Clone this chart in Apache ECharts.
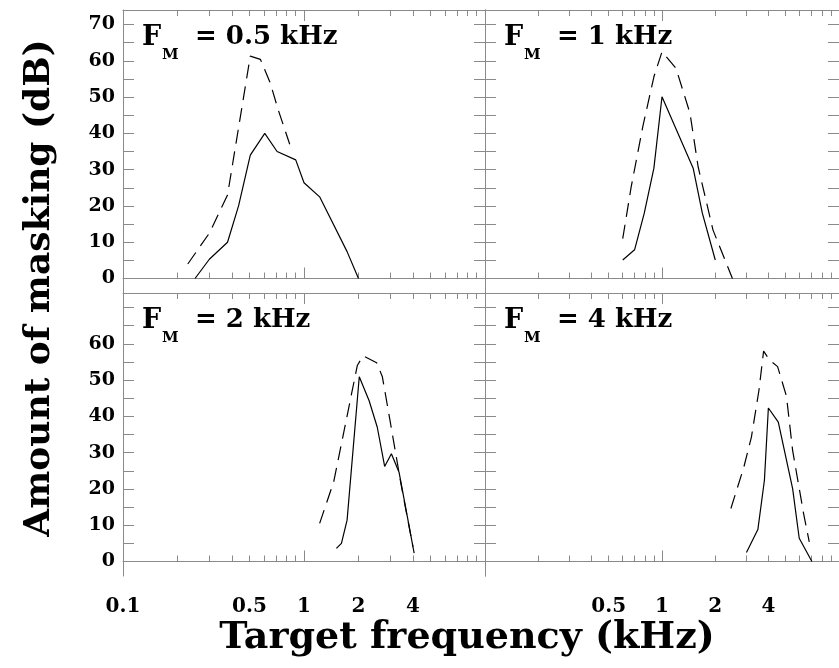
<!DOCTYPE html>
<html>
<head>
<meta charset="utf-8" />
<script src="https://cdn.jsdelivr.net/npm/echarts@6/dist/echarts.min.js"></script>
</head>
<body style="margin:0">
<div id="main" style="width: 839px;height: 668px;"></div>
<script type="text/javascript">
var chartDom = document.getElementById('main');
var myChart = echarts.init(chartDom);

// [target frequency kHz, masking dB]
var solid05 = [[0.25,0],[0.3,5.3],[0.378,10],[0.435,20],[0.505,34],[0.607,40],[0.71,35],[0.9,32.7],[1.0,26.4],[1.22,22.5],[1.73,7.4],[2.0,0]];
var dash05 = [[0.228,4],[0.3,12.5],[0.378,23],[0.505,61.3],[0.574,60.4],[0.65,54],[0.72,46.5],[0.834,37]];
var solid1 = [[0.6,5.1],[0.7,7.9],[0.794,18],[0.9,30.4],[1.0,50.1],[1.5,30.4],[1.69,18],[2.0,5.1]];
var dash1 = [[0.6,11],[0.67,25.3],[0.78,42],[0.9,55.6],[1.0,62.5],[1.2,57.9],[1.44,45.5],[1.6,30.8],[1.94,13.4],[2.5,0]];
var solid2 = [[1.51,3.6],[1.61,5],[1.73,11.4],[2.02,50.9],[2.29,44.3],[2.54,37],[2.79,26.2],[3.04,29.7],[3.35,24.6],[4.06,2.3]];
var dash2 = [[1.22,10.5],[1.46,22],[1.97,54],[2.12,56.7],[2.52,54.8],[2.71,50.9],[3.01,37.9],[3.43,21.5],[4.0,4]];
var solid4 = [[3.0,2.5],[3.48,8.8],[3.79,22.4],[3.99,42.3],[4.54,38.4],[5.47,20.1],[5.96,6.4],[7.03,0]];
var dash4 = [[2.45,14.6],[2.9,26],[3.2,34.3],[3.53,47.2],[3.75,58],[4.05,55.5],[4.5,53.7],[5.05,45.5],[5.47,30.6],[6.31,13.2],[6.79,5.4]];

var panelNames = ['0.5', '1', '2', '4'];
var xMinorTicks = [0.2,0.3,0.4,0.5,0.6,0.7,0.8,0.9,2,3,4,5,6,7,8,9];
var xMajorTicks = [1];
var xLabelsLeft = [0.1, 0.5, 1, 2, 4];
var xLabelsRight = [0.5, 1, 2, 4];
var yTicks = [0,5,10,15,20,25,30,35,40,45,50,55,60,65,70];
var yLabelsTop = [0,10,20,30,40,50,60,70];
var yLabelsBottom = [0,10,20,30,40,50,60];

var panelSolid = [solid05, solid1, solid2, solid4];
var panelDash = [dash05, dash1, dash2, dash4];

var grey = '#8a8a8a';
var serif = 'DejaVu Serif';
var grids = [
    { left: 123, top: 10, width: 362, height: 283 },
    { left: 485, top: 10, width: 362, height: 283 },
    { left: 123, top: 293, width: 362, height: 283 },
    { left: 485, top: 293, width: 362, height: 283 }
];

var xAxes = [], yAxes = [], series = [], graphics = [];

function xAxisDef(g, pos, ticks, len, showLine, labels) {
    return {
        type: 'log', gridIndex: g, position: pos, min: 0.1, max: 10, logBase: 10,
        axisLine: { show: showLine, lineStyle: { color: grey, width: 1 } },
        axisTick: { show: true, inside: true, length: len, customValues: ticks, lineStyle: { color: grey } },
        axisLabel: labels ? {
            show: true, customValues: labels, margin: 21,
            fontFamily: serif, fontWeight: 'bold', fontSize: 20, color: '#000',
            formatter: function (v) { return String(+(+v).toPrecision(3)); }
        } : { show: false },
        splitLine: { show: false },
        minorTick: { show: false }
    };
}

function yAxisDef(g, pos, labels) {
    return {
        type: 'value', gridIndex: g, position: pos, min: -4, max: 74,
        axisLine: { show: true, lineStyle: { color: grey, width: 1 } },
        axisTick: { show: true, inside: true, length: 11, customValues: yTicks, lineStyle: { color: grey } },
        axisLabel: labels ? {
            show: true, customValues: labels, margin: 8,
            fontFamily: serif, fontWeight: 'bold', fontSize: 19, color: '#000'
        } : { show: false },
        splitLine: { show: false }
    };
}

for (var g = 0; g < 4; g++) {
    var isBottom = g >= 2;
    var isLeft = g % 2 === 0;
    var labs = isBottom ? (isLeft ? xLabelsLeft : xLabelsRight) : null;
    xAxes.push(xAxisDef(g, 'bottom', xMinorTicks, 6, true, labs));
    xAxes.push(xAxisDef(g, 'bottom', xMajorTicks, 11, false, null));
    xAxes.push(xAxisDef(g, 'top', xMinorTicks, 6, true, null));
    xAxes.push(xAxisDef(g, 'top', xMajorTicks, 11, false, null));
    yAxes.push(yAxisDef(g, 'left', isLeft ? (isBottom ? yLabelsBottom : yLabelsTop) : null));
    yAxes.push(yAxisDef(g, 'right', null));

    series.push({
        type: 'line', xAxisIndex: g * 4, yAxisIndex: g * 2,
        data: panelSolid[g], symbol: 'none', silent: true,
        lineStyle: { color: '#000', width: 1.2 }
    });
    series.push({
        type: 'line', xAxisIndex: g * 4, yAxisIndex: g * 2,
        data: panelDash[g], symbol: 'none', silent: true,
        lineStyle: { color: '#000', width: 1.2, type: [14, 8] }
    });

    // panel title F_M = ...
    var lx = grids[g].left + 19;
    var ly = grids[g].top + 20;
    graphics.push({
        type: 'text', left: lx, top: ly - 6,
        style: { text: 'F', font: 'bold 27px "DejaVu Serif"', fill: '#000' }
    });
    graphics.push({
        type: 'text', left: lx + 20, top: ly + 18,
        style: { text: 'M', font: 'bold 15px "DejaVu Serif"', fill: '#000' }
    });
    graphics.push({
        type: 'text', left: lx + 53, top: ly - 6,
        style: { text: '= ' + panelNames[g] + ' kHz', font: 'bold 26px "DejaVu Serif"', fill: '#000' }
    });
}

graphics.push({
    type: 'text', x: 467, y: 638,
    style: { text: 'Target frequency (kHz)', font: 'bold 38px "DejaVu Serif"', fill: '#000', align: 'center', verticalAlign: 'middle' }
});
graphics.push({
    type: 'text', x: 40, y: 288, rotation: Math.PI / 2,
    style: { text: 'Amount of masking (dB)', font: 'bold 36px "DejaVu Serif"', fill: '#000', align: 'center', verticalAlign: 'middle' }
});

var option = {
    animation: false,
    backgroundColor: '#fff',
    grid: grids,
    xAxis: xAxes,
    yAxis: yAxes,
    series: series,
    graphic: graphics
};
myChart.setOption(option);
</script>
</body>
</html>
